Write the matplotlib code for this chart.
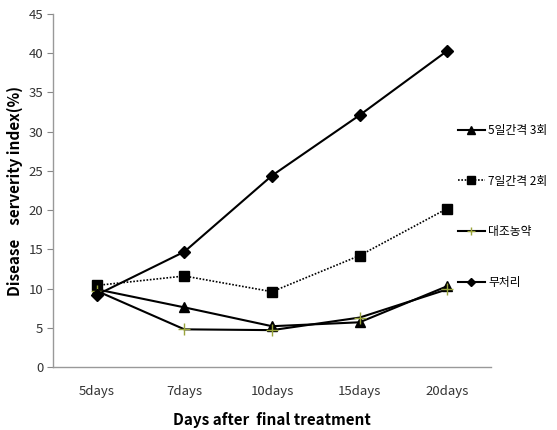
import matplotlib
matplotlib.use("Agg")
import matplotlib.pyplot as plt

plt.rcParams['font.family'] = ['Noto Sans CJK KR', 'DejaVu Sans']

categories = ["5days", "7days", "10days", "15days", "20days"]
series_names = ["5일간격 3회", "7일간격 2회", "대조농약", "무처리"]
s_5day3 = [9.9, 7.6, 5.2, 5.7, 10.3]
s_7day2 = [10.4, 11.6, 9.6, 14.2, 20.2]
s_control = [9.7, 4.8, 4.7, 6.3, 9.9]
s_untreated = [9.2, 14.7, 24.4, 32.1, 40.3]
yticks = [0, 5, 10, 15, 20, 25, 30, 35, 40, 45]

fig = plt.figure(figsize=(5.57, 4.30), dpi=100)
ax = fig.add_axes([53/557, 63/430, 438/557, 353/430])
x = list(range(len(categories)))

l1, = ax.plot(x, s_5day3, color='black', lw=1.5, marker='^', ms=7, mfc='black', mec='black')
l2, = ax.plot(x, s_7day2, color='black', lw=1.2, ls=(0, (1, 1)), marker='s', ms=7, mfc='black', mec='black')
l3, = ax.plot(x, s_control, color='black', lw=1.5, marker='+', ms=8, mec='#9aa53c', mew=1.0)
l4, = ax.plot(x, s_untreated, color='black', lw=1.5, marker='D', ms=6, mfc='black', mec='black')

ax.set_xlim(-0.5, 4.5)
ax.set_ylim(0, 45)
ax.set_yticks(yticks)
ax.set_xticks(x)
ax.set_xticklabels(categories)
ax.tick_params(axis='x', length=0, pad=13, labelsize=9.5, colors='#333333')
ax.tick_params(axis='y', length=4, direction='out', color='#888888', labelsize=9.5, colors='#333333', pad=3)
for s in ['top', 'right']:
    ax.spines[s].set_visible(False)
for s in ['left', 'bottom']:
    ax.spines[s].set_color('#999999')
    ax.spines[s].set_linewidth(1.0)

ax.set_xlabel("Days after  final treatment", fontsize=11, fontweight='bold', labelpad=10)
ax.set_ylabel("Disease    serverity index(%)", fontsize=11, fontweight='bold', labelpad=4)

leg = fig.legend([l1, l2, l3, l4], series_names, loc='upper left', bbox_to_anchor=(453/557, 0.723),
                 bbox_transform=fig.transFigure, borderaxespad=0,
                 frameon=False, fontsize=8.5, labelspacing=3.2, handlelength=2.3, handletextpad=0.3,
                 markerscale=0.75)

fig.savefig("out.png", dpi=100)
